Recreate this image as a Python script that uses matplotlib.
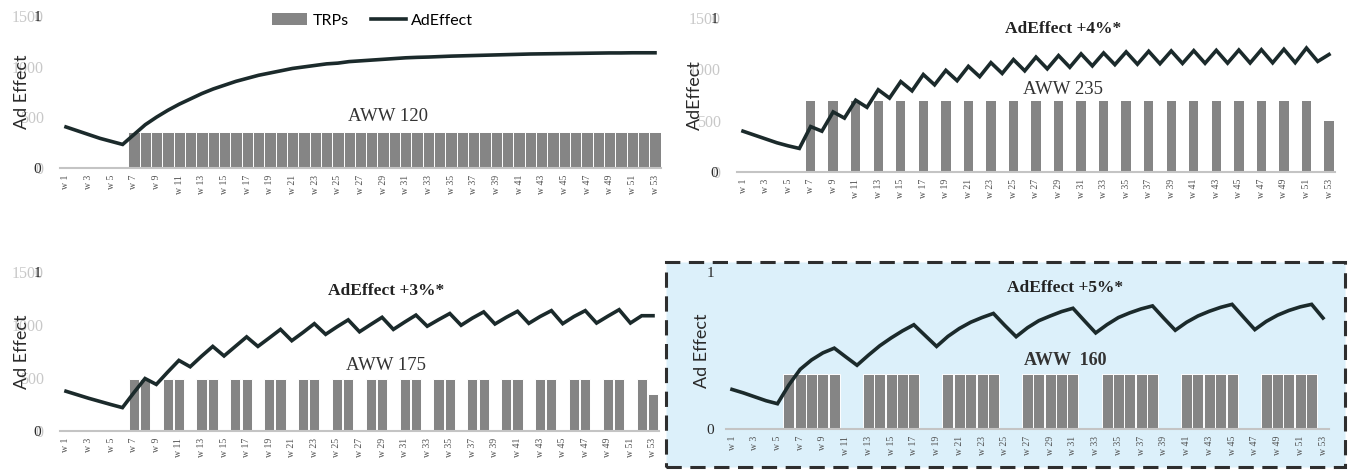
import matplotlib

matplotlib.use("Agg")
import matplotlib.pyplot as plt
from matplotlib.lines import Line2D
from matplotlib.patches import Patch, Rectangle

W, H = 1354, 470

weeks = list(range(1, 54))
tick_weeks = weeks[::2]
tick_labels = [f"w {w}" for w in tick_weeks]

# TRPs per week (bars) for each scenario
trps_continuous = [0, 0, 0, 0, 0, 0] + [355] * 47
trps_alternate = [0, 0, 0, 0, 0, 0,
                  690, 0, 690, 0, 690, 0, 690, 0, 690, 0, 690, 0, 690, 0, 690, 0, 690, 0,
                  690, 0, 690, 0, 690, 0, 690, 0, 690, 0, 690, 0, 690, 0, 690, 0, 690, 0,
                  690, 0, 690, 0, 690, 0, 690, 0, 690, 0, 495]
trps_pairs = [0, 0, 0, 0, 0, 0,
              490, 490, 0, 490, 490, 0, 490, 490, 0, 490, 490, 0, 490, 490, 0, 490, 490, 0,
              490, 490, 0, 490, 490, 0, 490, 490, 0, 490, 490, 0, 490, 490, 0, 490, 490, 0,
              490, 490, 0, 490, 490, 0, 490, 490, 0, 490, 345]
trps_flights = [0, 0, 0, 0, 0,
                530, 530, 530, 530, 530, 0, 0, 530, 530, 530, 530, 530, 0, 0,
                530, 530, 530, 530, 530, 0, 0, 530, 530, 530, 530, 530, 0, 0,
                530, 530, 530, 530, 530, 0, 0, 530, 530, 530, 530, 530, 0, 0,
                530, 530, 530, 530, 530, 0]

# Ad effect (line) for each scenario
effect_continuous = [0.27, 0.245, 0.22, 0.195, 0.175, 0.155, 0.22, 0.285, 0.335, 0.38,
                     0.42, 0.455, 0.49, 0.52, 0.545, 0.57, 0.59, 0.61, 0.625, 0.64,
                     0.655, 0.665, 0.675, 0.685, 0.69, 0.70, 0.705, 0.71, 0.715, 0.72,
                     0.725, 0.728, 0.73, 0.733, 0.736, 0.738, 0.74, 0.742, 0.744, 0.746,
                     0.748, 0.75, 0.751, 0.752, 0.753, 0.754, 0.755, 0.756, 0.757, 0.757,
                     0.758, 0.758, 0.758]
effect_alternate = [0.265, 0.24, 0.215, 0.19, 0.17, 0.153, 0.295, 0.265, 0.39, 0.35,
                    0.466, 0.42, 0.534, 0.48, 0.587, 0.527, 0.633, 0.566, 0.66, 0.593,
                    0.686, 0.619, 0.71, 0.64, 0.73, 0.657, 0.746, 0.67, 0.756, 0.68,
                    0.767, 0.689, 0.773, 0.697, 0.78, 0.70, 0.784, 0.703, 0.786, 0.705,
                    0.788, 0.706, 0.79, 0.707, 0.792, 0.708, 0.794, 0.709, 0.797, 0.71,
                    0.805, 0.718, 0.763]
effect_pairs = [0.25, 0.228, 0.206, 0.186, 0.166, 0.147, 0.24, 0.33, 0.293, 0.37,
                0.444, 0.404, 0.47, 0.532, 0.472, 0.532, 0.592, 0.532, 0.585, 0.639,
                0.568, 0.62, 0.675, 0.608, 0.655, 0.699, 0.624, 0.67, 0.715, 0.639,
                0.685, 0.729, 0.659, 0.70, 0.739, 0.665, 0.71, 0.749, 0.673, 0.715,
                0.753, 0.677, 0.72, 0.757, 0.675, 0.72, 0.757, 0.679, 0.722, 0.763,
                0.679, 0.725, 0.725]
effect_flights = [0.252, 0.23, 0.205, 0.18, 0.161, 0.28, 0.38, 0.44, 0.485, 0.515,
                  0.46, 0.406, 0.47, 0.53, 0.58, 0.625, 0.664, 0.595, 0.526, 0.59,
                  0.64, 0.68, 0.71, 0.736, 0.66, 0.588, 0.645, 0.69, 0.72, 0.748,
                  0.769, 0.69, 0.612, 0.665, 0.71, 0.74, 0.765, 0.784, 0.705, 0.629,
                  0.68, 0.72, 0.75, 0.775, 0.794, 0.713, 0.633, 0.685, 0.725, 0.755,
                  0.778, 0.794, 0.707]

BAR_COLOR = "#858585"
LINE_COLOR = "#1b2a2b"
GHOST = "#c8c8c8"
SERIF = "Liberation Serif"
SANS = "Lato"

plt.rcParams["font.family"] = SERIF

fig = plt.figure(figsize=(W / 100, H / 100), dpi=100)

# highlighted background for the last scenario
fig.patches.append(Rectangle((666 / W, 1 - 467 / H), 679 / W, 205 / H, transform=fig.transFigure,
                             facecolor="#dcf0fa", edgecolor="#2e2e2e", linewidth=2.2,
                             linestyle=(0, (5, 2.8)), zorder=-5))


def panel(w1_px, w53_px, top_px, base_px, trps, effect, title, title_y, aww, aww_y,
          bar_width, edge, ghost, ylabel, ylabel_x, pad_dark, text_x=0.545, bold_aww=False):
    per_week = (w53_px - w1_px) / 52
    left = w1_px - 0.5 * per_week
    right = w53_px + 0.5 * per_week
    ax = fig.add_axes([left / W, 1 - base_px / H, (right - left) / W, (base_px - top_px) / H])
    ax.patch.set_visible(False)
    ax.bar(weeks, trps, width=bar_width, color=BAR_COLOR,
           edgecolor=edge, linewidth=0 if edge == "none" else 0.7)
    ax.set_xlim(0.5, 53.5)
    ax.set_ylim(0, 1500)
    ax.set_xticks(tick_weeks)
    ax.set_xticklabels(tick_labels, rotation=90, fontsize=7, color="#505050")
    ax.tick_params(axis="x", length=0, pad=5)
    if ghost:
        ax.set_yticks([0, 500, 1000, 1500])
        ax.set_yticklabels(["0", "500", "1000", "1500"], fontsize=11.5, color=GHOST)
    else:
        ax.set_yticks([])
    ax.tick_params(axis="y", length=0, pad=12)
    for s in ["top", "right", "left"]:
        ax.spines[s].set_visible(False)
    ax.spines["bottom"].set_color("#c4c4c4")
    ax.spines["bottom"].set_linewidth(1.5)

    ax2 = ax.twinx()
    ax2.plot(weeks, effect, color=LINE_COLOR, linewidth=2.6, solid_joinstyle="miter")
    ax2.set_ylim(0, 1)
    ax2.yaxis.tick_left()
    ax2.set_yticks([0, 1])
    ax2.set_yticklabels(["0", "1"], fontsize=11, color="#2a2a2a")
    ax2.tick_params(axis="y", length=0, pad=pad_dark)
    for s in ax2.spines.values():
        s.set_visible(False)
    ax2.yaxis.set_label_position("left")
    ax2.set_ylabel(ylabel, fontsize=13, family=SANS, color="#2a2a2a")
    ax2.yaxis.set_label_coords((ylabel_x - left) / (right - left), 0.5)

    if title:
        ax2.text(text_x, title_y, title, transform=ax2.transAxes, ha="center", va="center",
                 fontsize=12.5, fontweight="bold", color="#222222")
    ax2.text(text_x, aww_y, aww, transform=ax2.transAxes, ha="center", va="center",
             fontsize=13 if bold_aww else 13.5,
             fontweight="bold" if bold_aww else "normal", color="#333333")
    return ax2


ax1 = panel(66, 655, 16, 168, trps_continuous, effect_continuous, "", 0, "AWW 120", 0.34,
            1.0, "white", True, "Ad Effect", 30, 14)
ax1.legend(handles=[Patch(facecolor=BAR_COLOR, label="TRPs"),
                    Line2D([0], [0], color=LINE_COLOR, linewidth=2.6, label="AdEffect")],
           loc="center", bbox_to_anchor=(0.52, 0.97), ncol=2, frameon=False,
           prop={"family": SANS, "size": 11.5}, handlelength=2.2, columnspacing=1.4,
           handletextpad=0.3)

panel(743, 1329, 18, 172, trps_alternate, effect_alternate, "AdEffect +4%*", 0.93,
      "AWW 235", 0.535, 0.83, "none", True, "AdEffect", 703, 14)
panel(66, 653, 272, 431, trps_pairs, effect_pairs, "AdEffect +3%*", 0.88,
      "AWW 175", 0.41, 0.9, "white", True, "Ad Effect", 30, 14)
panel(732, 1323, 272, 429, trps_flights, effect_flights, "AdEffect +5%*", 0.90,
      "AWW  160", 0.437, 0.97, "white", False, "Ad Effect", 710, 9, text_x=0.562, bold_aww=True)

fig.savefig("out.png", dpi=100)
